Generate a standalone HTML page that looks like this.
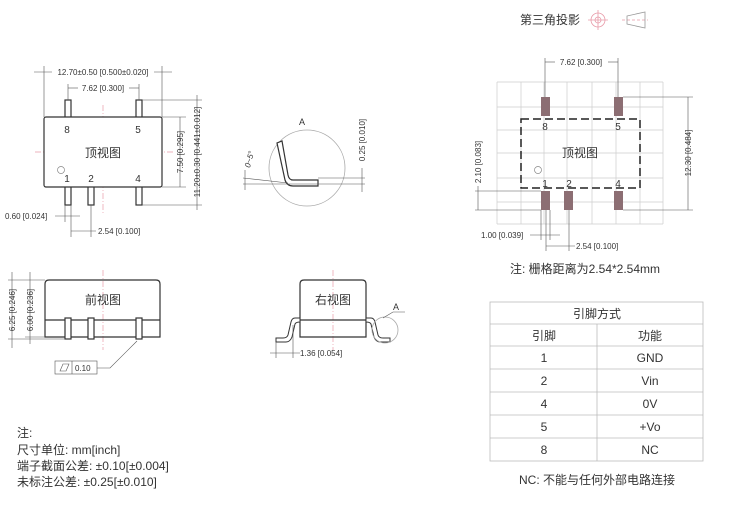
<!DOCTYPE html>
<html><head><meta charset="utf-8"><style>
body{margin:0;background:#fff}
text{font-family:"Liberation Sans","Noto Sans CJK SC",sans-serif;fill:#333}
</style></head><body>
<svg width="751" height="501" viewBox="0 0 751 501" xmlns="http://www.w3.org/2000/svg">
<defs><marker id="a" markerWidth="6" markerHeight="6" refX="5" refY="3" orient="auto"><path d="M0,1 L5,3 L0,5 z" fill="#333"/></marker></defs>
<!-- Top view left -->
<g stroke="#e89aa8" stroke-width="0.7" stroke-dasharray="6,2,1,2">
<line x1="103" y1="105" x2="103" y2="215"/><line x1="35" y1="152" x2="175" y2="152"/>
</g>
<g stroke="#333" fill="#fff" stroke-width="1.2">
<rect x="65" y="100" width="6" height="18"/><rect x="136" y="100" width="6" height="18"/>
<rect x="65" y="186" width="6" height="19"/><rect x="88" y="186" width="6" height="19"/><rect x="136" y="186" width="6" height="19"/>
<rect x="44" y="117" width="118" height="70" rx="2"/>
</g>
<circle cx="61" cy="170" r="3.5" fill="none" stroke="#888" stroke-width="0.7"/>
<g font-size="10" text-anchor="middle"><text x="67" y="133">8</text><text x="138" y="133">5</text><text x="67" y="182">1</text><text x="91" y="182">2</text><text x="138" y="182">4</text></g>
<text x="103" y="157" font-size="12" text-anchor="middle">顶视图</text>
<g stroke="#555" stroke-width="0.6" fill="none">
<line x1="44" y1="66" x2="44" y2="117"/><line x1="162" y1="66" x2="162" y2="117"/>
<line x1="34" y1="72" x2="52" y2="72"/><line x1="154" y1="72" x2="172" y2="72"/>
<line x1="68" y1="84" x2="68" y2="100"/><line x1="139" y1="84" x2="139" y2="100"/>
<line x1="68" y1="88" x2="78" y2="88"/><line x1="129" y1="88" x2="139" y2="88"/>
<line x1="162" y1="117" x2="186" y2="117"/><line x1="162" y1="187" x2="186" y2="187"/><line x1="180" y1="117" x2="180" y2="187"/>
<line x1="142" y1="100" x2="202" y2="100"/><line x1="142" y1="205" x2="202" y2="205"/><line x1="197" y1="95" x2="197" y2="210"/>
<line x1="65" y1="205" x2="65" y2="222"/><line x1="71" y1="205" x2="71" y2="237"/><line x1="91" y1="205" x2="91" y2="237"/>
<line x1="55" y1="216" x2="80" y2="216"/><line x1="71" y1="231" x2="96" y2="231"/>
</g>
<g font-size="8" fill="#333"><text x="103" y="75" text-anchor="middle">12.70±0.50 [0.500±0.020]</text>
<text x="103" y="91" text-anchor="middle">7.62 [0.300]</text>
<text x="5" y="219">0.60 [0.024]</text><text x="98" y="234">2.54 [0.100]</text>
<text transform="translate(183,152) rotate(-90)" text-anchor="middle">7.50 [0.295]</text>
<text transform="translate(200,152) rotate(-90)" text-anchor="middle">11.20±0.30 [0.441±0.012]</text></g>
<!-- Detail A -->
<circle cx="307" cy="168" r="38" fill="none" stroke="#aaa" stroke-width="0.8"/>
<path d="M277,143 L285,180 Q287,186 293,186 L318,186 L318,180 L293,180 Q289,180 288,175 L282,141 Z" fill="#fff" stroke="#333" stroke-width="1.2"/>
<g stroke="#555" stroke-width="0.6"><line x1="243" y1="184" x2="365" y2="184"/><line x1="243" y1="178" x2="288" y2="183"/><line x1="318" y1="178" x2="365" y2="178"/><line x1="362" y1="168" x2="362" y2="192"/><line x1="245" y1="170" x2="245" y2="190"/></g>
<text x="302" y="125" font-size="9" text-anchor="middle">A</text>
<g font-size="8"><text transform="translate(365,140) rotate(-90)" text-anchor="middle">0.25 [0.010]</text>
<text transform="translate(252,160) rotate(-75)" text-anchor="middle" font-style="italic">0~5°</text></g>
<!-- Right top view grid -->
<g stroke="#ccc" stroke-width="0.7">
<line x1="497" y1="82" x2="497" y2="224"/><line x1="521" y1="82" x2="521" y2="224"/><line x1="544" y1="82" x2="544" y2="224"/><line x1="567" y1="82" x2="567" y2="224"/><line x1="592" y1="82" x2="592" y2="224"/><line x1="616" y1="82" x2="616" y2="224"/><line x1="640" y1="82" x2="640" y2="224"/><line x1="663" y1="82" x2="663" y2="224"/>
<line x1="497" y1="82" x2="663" y2="82"/><line x1="497" y1="107" x2="663" y2="107"/><line x1="497" y1="130" x2="663" y2="130"/><line x1="497" y1="153" x2="663" y2="153"/><line x1="497" y1="178" x2="663" y2="178"/><line x1="497" y1="202" x2="663" y2="202"/><line x1="497" y1="224" x2="663" y2="224"/>
</g>
<rect x="521" y="119" width="119" height="69" fill="none" stroke="#222" stroke-width="1.5" stroke-dasharray="8,4"/>
<g fill="#8c6e73"><rect x="541" y="97" width="9" height="19"/><rect x="614" y="97" width="9" height="19"/><rect x="541" y="191" width="9" height="19"/><rect x="564" y="191" width="9" height="19"/><rect x="614" y="191" width="9" height="19"/></g>
<circle cx="538" cy="170" r="3.5" fill="none" stroke="#888" stroke-width="0.7"/>
<g font-size="10" text-anchor="middle"><text x="545" y="130">8</text><text x="618" y="130">5</text><text x="545" y="187">1</text><text x="569" y="187">2</text><text x="618" y="187">4</text></g>
<text x="580" y="157" font-size="12" text-anchor="middle">顶视图</text>
<g stroke="#555" stroke-width="0.6">
<line x1="545" y1="58" x2="545" y2="97"/><line x1="618" y1="58" x2="618" y2="97"/><line x1="545" y1="62" x2="555" y2="62"/><line x1="608" y1="62" x2="618" y2="62"/>
<line x1="623" y1="97" x2="693" y2="97"/><line x1="623" y1="210" x2="693" y2="210"/><line x1="688" y1="97" x2="688" y2="210"/>
<line x1="475" y1="191" x2="541" y2="191"/><line x1="475" y1="210" x2="541" y2="210"/><line x1="478" y1="186" x2="478" y2="210"/>
<line x1="541" y1="210" x2="541" y2="240"/><line x1="546" y1="210" x2="546" y2="251"/><line x1="550" y1="210" x2="550" y2="240"/><line x1="569" y1="210" x2="569" y2="251"/>
<line x1="530" y1="235" x2="560" y2="235"/><line x1="546" y1="246" x2="575" y2="246"/>
</g>
<g font-size="8"><text x="581" y="65" text-anchor="middle">7.62 [0.300]</text>
<text transform="translate(691,153) rotate(-90)" text-anchor="middle">12.30 [0.484]</text>
<text transform="translate(481,162) rotate(-90)" text-anchor="middle">2.10 [0.083]</text>
<text x="481" y="238">1.00 [0.039]</text><text x="576" y="249">2.54 [0.100]</text></g>
<text x="585" y="273" font-size="12" text-anchor="middle">注: 栅格距离为2.54*2.54mm</text>
<!-- Top right label -->
<text x="520" y="24" font-size="12">第三角投影</text>
<g stroke="#e89aa8" stroke-width="0.8" fill="none"><circle cx="598" cy="20" r="7"/><circle cx="598" cy="20" r="3"/><line x1="588" y1="20" x2="608" y2="20"/><line x1="598" y1="10" x2="598" y2="30"/><line x1="622" y1="20" x2="648" y2="20" stroke-dasharray="3,2"/></g>
<path d="M627,16 L645,12 L645,28 L627,24 Z" fill="none" stroke="#999" stroke-width="0.8"/>
<!-- Front view -->
<g stroke="#e89aa8" stroke-width="0.7" stroke-dasharray="6,2,1,2"><line x1="103" y1="270" x2="103" y2="350"/><line x1="333" y1="270" x2="333" y2="350"/></g>
<path d="M45,320 L45,284 Q45,280 49,280 L156,280 Q160,280 160,284 L160,320 Z M45,320 L45,337 L160,337 L160,320" fill="none" stroke="#333" stroke-width="1.2"/>
<g stroke="#333" fill="#fff" stroke-width="1.2"><rect x="65" y="318" width="6" height="21"/><rect x="88" y="318" width="6" height="21"/><rect x="136" y="318" width="6" height="21"/></g>
<text x="103" y="304" font-size="12" text-anchor="middle">前视图</text>
<g stroke="#555" stroke-width="0.6" fill="none"><line x1="8" y1="280" x2="45" y2="280"/><line x1="8" y1="339" x2="65" y2="339"/><line x1="25" y1="337" x2="45" y2="337"/><line x1="12" y1="272" x2="12" y2="348"/><line x1="30" y1="272" x2="30" y2="344"/>
<rect x="55" y="361" width="42" height="13"/><line x1="72" y1="361" x2="72" y2="374"/><path d="M97,368 L110,368 L137,341"/><path d="M60,371 L63,364 L69,364 L66,371 Z"/></g>
<g font-size="8"><text transform="translate(15,310) rotate(-90)" text-anchor="middle">6.25 [0.246]</text><text transform="translate(33,310) rotate(-90)" text-anchor="middle">6.00 [0.236]</text><text x="75" y="371">0.10</text></g>
<!-- Right view -->
<path d="M300,320 L300,284 Q300,280 304,280 L362,280 Q366,280 366,284 L366,320 L366,337 L300,337 Z M300,320 L366,320" fill="none" stroke="#333" stroke-width="1.2"/>
<path d="M300,318 L295,318 Q292,318 291,322 L288,335 Q287,338 283,338 L276,338 L276,342 L286,342 Q290,342 292,337 L295,324 Q296,322 300,322 Z" fill="#fff" stroke="#333" stroke-width="1"/>
<path d="M366,318 L371,318 Q374,318 375,322 L378,335 Q379,338 383,338 L390,338 L390,342 L380,342 Q376,342 374,337 L371,324 Q370,322 366,322 Z" fill="#fff" stroke="#333" stroke-width="1"/>
<circle cx="385" cy="330" r="13" fill="none" stroke="#aaa" stroke-width="0.8"/>
<g stroke="#555" stroke-width="0.6" fill="none"><line x1="276" y1="342" x2="276" y2="358"/><line x1="293" y1="325" x2="293" y2="358"/><line x1="270" y1="353" x2="300" y2="353"/><path d="M383,318 L393,312 L405,312"/></g>
<text x="333" y="304" font-size="12" text-anchor="middle">右视图</text>
<text x="300" y="356" font-size="8" x-dx="0" dx="0"><tspan x="300">1.36 [0.054]</tspan></text>
<text x="393" y="310" font-size="9">A</text>
<!-- Table -->
<g stroke="#bbb" stroke-width="0.8" fill="none"><rect x="490" y="302" width="213" height="159"/>
<line x1="490" y1="324" x2="703" y2="324"/><line x1="490" y1="346" x2="703" y2="346"/><line x1="490" y1="369" x2="703" y2="369"/><line x1="490" y1="392" x2="703" y2="392"/><line x1="490" y1="415" x2="703" y2="415"/><line x1="490" y1="438" x2="703" y2="438"/><line x1="597" y1="324" x2="597" y2="461"/></g>
<g font-size="12" text-anchor="middle"><text x="597" y="318">引脚方式</text>
<text x="544" y="340">引脚</text><text x="650" y="340">功能</text>
<text x="544" y="362">1</text><text x="650" y="362">GND</text>
<text x="544" y="385">2</text><text x="650" y="385">Vin</text>
<text x="544" y="408">4</text><text x="650" y="408">0V</text>
<text x="544" y="431">5</text><text x="650" y="431">+Vo</text>
<text x="544" y="454">8</text><text x="650" y="454">NC</text>
<text x="597" y="484">NC: 不能与任何外部电路连接</text></g>
<!-- Notes -->
<g font-size="12"><text x="17" y="437">注:</text><text x="17" y="454">尺寸单位: mm[inch]</text><text x="17" y="470">端子截面公差: ±0.10[±0.004]</text><text x="17" y="486">未标注公差: ±0.25[±0.010]</text></g>
</svg>
</body></html>
